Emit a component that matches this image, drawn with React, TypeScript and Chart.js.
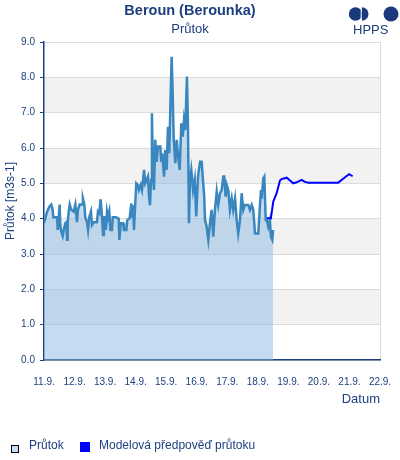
import React, { useEffect, useRef } from 'react';
import { Chart, registerables } from 'chart.js';

Chart.register(...registerables);

const chartTitle = 'Beroun (Berounka)';
const chartSubtitle = 'Průtok';
const yAxisTitle = 'Průtok [m3s-1]';
const xAxisTitle = 'Datum';
const obsLabel = 'Průtok';
const fcLabel = 'Modelová předpověď průtoku';
const logoText = 'HPPS';

// x tick labels, one per day (hours since 11.9. 00:00)
const dayLabels = ['11.9.', '12.9.', '13.9.', '14.9.', '15.9.', '16.9.', '17.9.', '18.9.', '19.9.', '20.9.', '21.9.', '22.9.'];
const yTicks = [0, 1, 2, 3, 4, 5, 6, 7, 8, 9];

// observed discharge: hours since 11.9. 00:00
const obsHours = [
  0, 2.4, 4.2, 5.7, 6.8, 7.3, 10.2, 10.8, 11.5, 12.3,
  12.8, 13.6, 14.7, 15.5, 16.7, 17.5, 18.1, 18.6, 19.4, 20.2,
  21.4, 23.3, 24.6, 25.9, 26.7, 28, 29.9, 30.6, 31.7, 32.4,
  33.8, 34.6, 35.6, 36.9, 37.7, 39, 41.6, 42.4, 43.4, 44.5,
  45.6, 46.4, 47.1, 48.2, 48.7, 49.5, 50.3, 51.3, 52.1, 53.4,
  54, 56.6, 58.7, 59.2, 60.3, 62.1, 62.8, 64.7, 65.4, 67.3,
  68.6, 69.4, 69.9, 70.7, 71.7, 72.5, 73.8, 74.6, 76, 77,
  78.6, 79.6, 81.7, 82.5, 83.3, 84.1, 84.8, 85.6, 86.4, 87.4,
  88.5, 89.6, 91.4, 92.1, 92.9, 94.3, 95.3, 96.4, 97.4, 98.4,
  99.5, 100.3, 101.1, 101.9, 103.2, 104.3, 105.3, 106.6, 107.9, 109,
  110, 111, 112.3, 113.1, 113.9, 114.7, 115.7, 117.1, 118.4, 119.6,
  121, 122.6, 123.9, 124.7, 125.9, 126.5, 127.8, 129.1, 130.4, 131.7,
  133, 134.3, 135.7, 136.9, 138.3, 139.6, 140.9, 141.6, 142.7, 143.5,
  144.8, 146.1, 147.5, 148.7, 150.1, 151.4, 152.6, 154, 155.3, 156.6,
  157.9, 160.5, 161.8, 163.2, 164.4, 165.8, 168.4, 169.7, 170.5, 171,
  172.3, 173.1, 174.2, 175, 176.2, 177.5, 178.3, 179.4, 180,
];
const obsValues = [
  3.87, 4.2, 4.34, 4.4, 4.25, 4.04, 4.04, 3.68, 4.0, 4.4,
  3.82, 3.63, 3.51, 3.68, 3.87, 3.9, 3.4, 3.9, 4.2, 4.4,
  4.25, 4.2, 4.4, 3.9, 4.25, 4.4, 4.4, 4.57, 4.4, 4.04,
  3.9, 3.68, 4.04, 4.2, 3.82, 3.9, 3.9, 4.2, 4.15, 4.55,
  4.04, 3.54, 4.04, 4.04, 3.68, 4.2, 4.04, 4.2, 3.68, 3.68,
  4.04, 4.04, 4.0, 3.4, 3.87, 3.87, 3.68, 3.68, 3.96, 4.01,
  4.43, 4.06, 4.38, 3.68, 4.43, 5.0, 4.95, 4.81, 4.95, 4.81,
  5.38, 5.0, 5.19, 4.62, 4.38, 5.1, 6.98, 5.28, 4.81, 6.23,
  5.61, 6.04, 6.04, 5.61, 5.85, 5.19, 5.94, 5.38, 6.6, 5.85,
  7.5, 8.58, 7.55, 6.27, 5.57, 6.23, 5.8, 5.38, 6.7, 6.32,
  6.79, 6.51, 8.02, 6.7, 3.87, 5.1, 5.38, 4.81, 5.1, 4.06,
  5.19, 5.61, 5.61, 5.19, 4.62, 3.96, 3.77, 3.4, 3.87, 4.25,
  3.49, 4.25, 4.76, 4.39, 4.72, 4.81, 5.19, 5.19, 4.62, 4.96,
  4.81, 4.25, 4.57, 4.25, 4.57, 3.96, 3.58, 3.96, 4.72, 4.25,
  4.39, 4.39, 4.25, 4.39, 4.25, 3.58, 3.58, 4.39, 4.81, 4.57,
  5.14, 5.19, 3.96, 3.96, 3.77, 3.96, 3.49, 3.4, 3.68,
];

// model forecast
const fcHours = [175, 178.3, 180.1, 182.8, 185.4, 186.7, 190.7, 193.3, 195.8, 198.5, 202.4, 205, 207.6, 231.2, 236.5, 239.8, 242.5];
const fcValues = [4.01, 4.01, 4.48, 4.72, 5.08, 5.12, 5.16, 5.08, 5.0, 5.03, 5.1, 5.04, 5.02, 5.02, 5.17, 5.26, 5.2];

const NAVY = '#1d3f7f';
const FONT = '"Liberation Sans", Arial, sans-serif';

const bandsPlugin = {
  id: 'bands',
  beforeDraw(chart: any) {
    const { ctx, chartArea, scales } = chart;
    const y = scales.y;
    ctx.save();
    ctx.fillStyle = '#f2f2f2';
    for (let i = 1; i < yTicks.length - 1; i += 2) {
      const top = y.getPixelForValue(yTicks[i + 1]);
      const bot = y.getPixelForValue(yTicks[i]);
      ctx.fillRect(chartArea.left, top, chartArea.right - chartArea.left, bot - top);
    }
    ctx.strokeStyle = '#dcdcdc';
    ctx.lineWidth = 1;
    ctx.beginPath();
    ctx.moveTo(chartArea.right + 0.5, chartArea.top);
    ctx.lineTo(chartArea.right + 0.5, chartArea.bottom);
    ctx.stroke();
    ctx.restore();
  },
};

export default function App() {
  const ref = useRef<HTMLCanvasElement | null>(null);

  useEffect(() => {
    if (!ref.current) return;
    const chart = new Chart(ref.current, {
      type: 'line',
      data: {
        datasets: [
          {
            label: obsLabel,
            data: obsHours.map((h, i) => ({ x: h, y: obsValues[i] })),
            borderColor: '#3a87c0',
            backgroundColor: 'rgba(139,185,225,0.5)',
            borderWidth: 2.5,
            pointRadius: 0,
            fill: 'origin',
            tension: 0,
            order: 2,
          },
          {
            label: fcLabel,
            data: fcHours.map((h, i) => ({ x: h, y: fcValues[i] })),
            borderColor: '#0000ff',
            backgroundColor: '#0000ff',
            borderWidth: 2,
            pointRadius: 0,
            fill: false,
            tension: 0,
            order: 1,
          },
        ],
      },
      options: {
        responsive: false,
        animation: false,
        events: [],
        layout: { padding: { right: 20, bottom: 32 } },
        plugins: {
          legend: { display: false },
          tooltip: { enabled: false },
          title: {
            display: true,
            text: chartTitle,
            color: NAVY,
            font: { family: FONT, size: 14.5, weight: 'bold', lineHeight: 1.2 },
            padding: { top: 2, bottom: 2.1 },
          },
          subtitle: {
            display: true,
            text: chartSubtitle,
            color: NAVY,
            font: { family: FONT, size: 13, lineHeight: 1.2 },
            padding: { top: 0, bottom: 4.9 },
          },
        },
        scales: {
          x: {
            type: 'linear',
            min: 0,
            max: (dayLabels.length - 1) * 24,
            afterFit(scale: any) {
              scale.height = 68;
            },
            grid: { display: false },
            border: { display: true, color: NAVY, width: 1.5 },
            ticks: {
              stepSize: 24,
              autoSkip: false,
              maxRotation: 0,
              padding: 8,
              color: NAVY,
              font: { family: FONT, size: 10 },
              callback: (v: any) => dayLabels[Math.round(Number(v) / 24)] ?? '',
            },
            title: {
              display: true,
              text: xAxisTitle,
              align: 'end',
              color: NAVY,
              font: { family: FONT, size: 13, lineHeight: 1.2 },
              padding: { top: 0, bottom: 20.9 },
            },
          },
          y: {
            min: yTicks[0],
            max: yTicks[yTicks.length - 1],
            afterFit(scale: any) {
              scale.width = 44;
            },
            grid: { color: '#dcdcdc', tickLength: 4, tickColor: NAVY, lineWidth: 1 },
            border: { display: true, color: NAVY, width: 1.5 },
            ticks: {
              stepSize: 1,
              padding: 5,
              color: NAVY,
              font: { family: FONT, size: 10 },
              callback: (v: any) => Number(v).toFixed(1),
            },
            title: {
              display: true,
              text: yAxisTitle,
              color: NAVY,
              font: { family: FONT, size: 12, lineHeight: 1.2 },
              padding: { top: 3.5, bottom: 0 },
            },
          },
        },
      } as any,
      plugins: [bandsPlugin],
    });
    return () => chart.destroy();
  }, []);

  return (
    <div style={{ position: 'absolute', left: 0, top: 0, width: 400, height: 460, background: '#fff', fontFamily: FONT }}>
      <canvas ref={ref} width={400} height={460} style={{ position: 'absolute', left: 0, top: 0 }} />
      <svg width={60} height={24} style={{ position: 'absolute', left: 345, top: 3 }} viewBox="0 0 60 24">
        <circle cx={10.5} cy={11} r={6.7} fill="#1a3a7c" />
        <path d="M 16.8 4.3 A 6.7 6.7 0 0 1 16.8 17.7 Z" fill="#1a3a7c" />
        <line x1={16.2} y1={3} x2={16.2} y2={19} stroke="#fff" strokeWidth={1} />
        <circle cx={46} cy={11} r={7.5} fill="#1a3a7c" />
      </svg>
      <div style={{ position: 'absolute', left: 353, top: 22, fontSize: 13, lineHeight: '15px', color: NAVY }}>{logoText}</div>
      <div style={{ position: 'absolute', left: 11, top: 445, width: 8, height: 8, boxSizing: 'border-box', border: '1px solid #000', background: '#c6dcf0' }} />
      <div style={{ position: 'absolute', left: 29, top: 438, fontSize: 12, lineHeight: '14px', color: NAVY, whiteSpace: 'nowrap' }}>{obsLabel}</div>
      <div style={{ position: 'absolute', left: 80, top: 442, width: 10, height: 10, background: '#0000ff' }} />
      <div style={{ position: 'absolute', left: 99, top: 438, fontSize: 12, lineHeight: '14px', color: NAVY, whiteSpace: 'nowrap' }}>{fcLabel}</div>
    </div>
  );
}
